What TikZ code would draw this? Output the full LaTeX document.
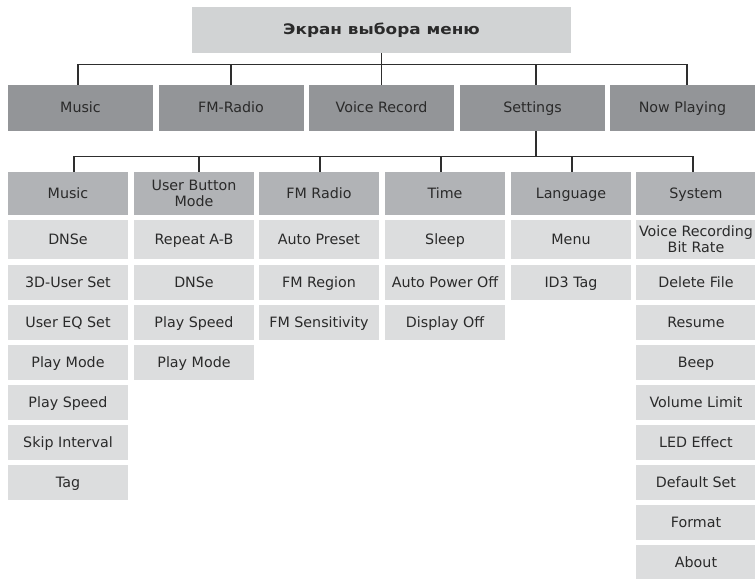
\documentclass[tikz,border=0pt]{standalone}
\usepackage{fontspec}
\setmainfont{DejaVu Sans}
\newfontfamily\tfont[FakeStretch=1.16]{DejaVu Sans}
\definecolor{cTop}{HTML}{D1D3D4}
\definecolor{cLa}{HTML}{939598}
\definecolor{cLb}{HTML}{B1B3B6}
\definecolor{cIt}{HTML}{DCDDDE}
\definecolor{cLine}{HTML}{2E2E2E}
\definecolor{txt}{HTML}{2A2A2A}
\newcommand\pxu{0.75pt}
\begin{document}
\begin{tikzpicture}[x=0.75pt,y=-0.75pt,
  bx/.style={rectangle, inner sep=0pt, text=txt, align=center,
    font=\fontsize{10.7}{11.8}\selectfont},
  one/.style={text height=0.95em, text depth=0.22em},
  topbox/.style={bx, one, fill=cTop, minimum width=379*\pxu, minimum height=46*\pxu,
    font=\tfont\fontsize{10.9}{12}\selectfont\bfseries},
  lva/.style={bx, one, fill=cLa, minimum width=145*\pxu, minimum height=46*\pxu},
  lvb/.style={bx, fill=cLb, minimum width=120*\pxu, minimum height=43*\pxu},
  itm/.style={bx, fill=cIt, minimum width=120*\pxu, minimum height=35*\pxu},
  itmt/.style={itm, minimum height=39*\pxu},
  conn/.style={draw=cLine, line width=1.1pt}]
\useasboundingbox (0,0) rectangle (755,578);

% top
\node[topbox] (top) at (381.5,30) {Экран выбора меню};

% level 1
\node[lva] (mus) at (80.5,108) {Music};
\node[lva] (fm)  at (231,108) {FM-Radio};
\node[lva] (vr)  at (381.5,108) {Voice Record};
\node[lva] (set) at (532.5,108) {Settings};
\node[lva] (np)  at (682.5,108) {Now Playing};

% level 2
\node[lvb, one] (cm) at (68,193.5) {Music};
\node[lvb] (cu) at (194,193.5) {User Button\\Mode};
\node[lvb, one] (cf) at (319,193.5) {FM Radio};
\node[lvb, one] (ct) at (445,193.5) {Time};
\node[lvb, one] (cl) at (571,193.5) {Language};
\node[lvb, one] (cs) at (696,193.5) {System};

% items: Music
\node[itmt, one] (m1) at (68,239.5) {DNSe};
\node[itm, one] (m2) at (68,282.5) {3D-User Set};
\node[itm, one] (m3) at (68,322.5) {User EQ Set};
\node[itm, one] (m4) at (68,362.5) {Play Mode};
\node[itm, one] (m5) at (68,402.5) {Play Speed};
\node[itm, one] (m6) at (68,442.5) {Skip Interval};
\node[itm, one] (m7) at (68,482.5) {Tag};
% User Button Mode
\node[itmt, one] (u1) at (194,239.5) {Repeat A-B};
\node[itm, one] (u2) at (194,282.5) {DNSe};
\node[itm, one] (u3) at (194,322.5) {Play Speed};
\node[itm, one] (u4) at (194,362.5) {Play Mode};
% FM Radio
\node[itmt, one] (f1) at (319,239.5) {Auto Preset};
\node[itm, one] (f2) at (319,282.5) {FM Region};
\node[itm, one] (f3) at (319,322.5) {FM Sensitivity};
% Time
\node[itmt, one] (t1) at (445,239.5) {Sleep};
\node[itm, one] (t2) at (445,282.5) {Auto Power Off};
\node[itm, one] (t3) at (445,322.5) {Display Off};
% Language
\node[itmt, one] (l1) at (571,239.5) {Menu};
\node[itm, one] (l2) at (571,282.5) {ID3 Tag};
% System
\node[itmt] (s1) at (696,239.5) {Voice Recording\\Bit Rate};
\node[itm, one] (s2) at (696,282.5) {Delete File};
\node[itm, one] (s3) at (696,322.5) {Resume};
\node[itm, one] (s4) at (696,362.5) {Beep};
\node[itm, one] (s5) at (696,402.5) {Volume Limit};
\node[itm, one] (s6) at (696,442.5) {LED Effect};
\node[itm, one] (s7) at (696,482.5) {Default Set};
\node[itm, one] (s8) at (696,522.5) {Format};
\node[itm, one] (s9) at (696,562.5) {About};

% connectors level 1
\draw[conn] (top.south) -- (vr.north);
\draw[conn] ([xshift=-2.5*\pxu]mus.north) -- ++(0,-20) -| ([xshift=4.5*\pxu]np.north);
\draw[conn] (fm.north) -- ++(0,-20);
\draw[conn] ([xshift=3.5*\pxu]set.north) -- ++(0,-20);

% connectors level 2
\draw[conn] ([xshift=3.5*\pxu]set.south) -- ++(0,26);
\draw[conn] ([xshift=6*\pxu]cm.north) -- ++(0,-15) -| ([xshift=-3*\pxu]cs.north);
\draw[conn] ([xshift=5*\pxu]cu.north) -- ++(0,-15);
\draw[conn] ([xshift=1*\pxu]cf.north) -- ++(0,-15);
\draw[conn] ([xshift=-4*\pxu]ct.north) -- ++(0,-15);
\draw[conn] ([xshift=1*\pxu]cl.north) -- ++(0,-15);
\end{tikzpicture}
\end{document}
